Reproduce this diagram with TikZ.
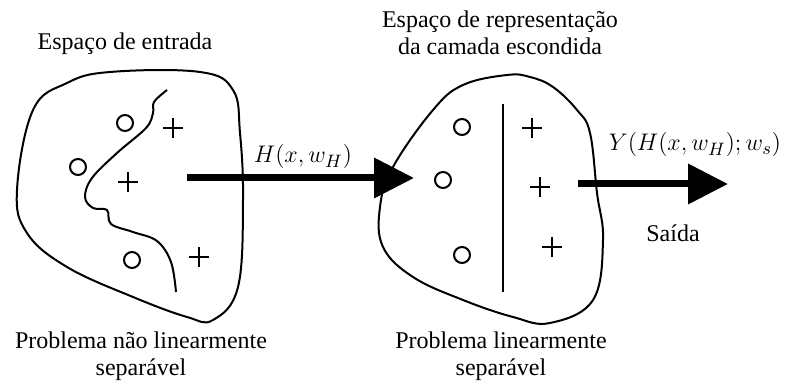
\documentclass[tikz,border=0pt]{standalone}
\usepackage{fontspec}
\setmainfont{Liberation Serif}
\newfontfamily\timesfont{Liberation Serif}
\usetikzlibrary{arrows.meta,positioning}

\begin{document}
\begin{tikzpicture}[x=0.5pt, y=-0.5pt, font=\timesfont\fontsize{12}{14}\selectfont,
blob/.style={draw, line width=1pt, smooth cycle, tension=0.65},
border/.style={draw, line width=1pt},
ring/.style={draw, circle, line width=1pt, minimum size=8pt, inner sep=0pt},
plus/.style={minimum size=10pt, inner sep=0pt, path picture={
  \draw[line width=0.8pt] (path picture bounding box.north) -- (path picture bounding box.south)
    (path picture bounding box.west) -- (path picture bounding box.east);}},
caption/.style={align=center, font=\timesfont\fontsize{12}{13.5}\selectfont},
map/.style={-{Triangle[length=20pt, width=19.5pt]}, line width=3.5pt}]
\useasboundingbox (0,0) rectangle (786,383);

% input space
\node[caption] (intitle) at (125,44) {Espaço de entrada};
\draw[blob] plot coordinates {(17,190) (33,110) (67,83) (110,72) (200,72) (233,90) (240,133) (243,200) (238,287) (213,320) (187,317) (133,297) (67,267) (27,233)};
\draw[border] plot[smooth, tension=0.6] coordinates {(167,90) (154,102) (153,113) (146,128) (117,153) (92,178) (85,197) (93,208) (107,210) (111,224) (133,232) (157,241) (171,262) (176,292)};
\node[ring] (c1) at (125,123) {};
\node[ring] (c2) at (78,167) {};
\node[ring] (c3) at (132,260) {};
\node[plus] (p1) at (173,128) {};
\node[plus] (p2) at (128,182) {};
\node[plus] (p3) at (199,257) {};
\node[caption] (inlabel) at (141,356) {Problema não linearmente\\separável};

% hidden representation space
\node[caption] (hidtitle) at (500,33) {Espaço de representação\\da camada escondida};
\draw[blob] plot coordinates {(507,75) (463,85) (433,110) (393,167) (380,207) (383,247) (413,277) (463,300) (513,317) (550,323) (593,300) (603,240) (597,193) (590,133) (577,110) (553,87) (530,77)};
\draw[border] (503,104) -- (503,292);
\node[ring] (c4) at (462,127) {};
\node[ring] (c5) at (443,180) {};
\node[ring] (c6) at (462,255) {};
\node[plus] (p4) at (532,128) {};
\node[plus] (p5) at (540,187) {};
\node[plus] (p6) at (552,247) {};
\node[caption] (hidlabel) at (501,356) {Problema linearmente\\separável};

% mappings
\coordinate (hstart) at (187,178);
\coordinate (hend) at (414,178);
\coordinate (ystart) at (578,184);
\coordinate (yend) at (728,184);
\draw[map] (hstart) -- (hend);
\draw[map] (ystart) -- (yend);
\node[font=\fontsize{13}{15}\selectfont] (hlabel) at (303,157) {$H(x,w_H)$};
\node[font=\fontsize{13}{15}\selectfont] (ylabel) at (695,145) {$Y(H(x,w_H);w_s)$};
\node (out) at (673,233) {Saída};
\end{tikzpicture}
\end{document}
